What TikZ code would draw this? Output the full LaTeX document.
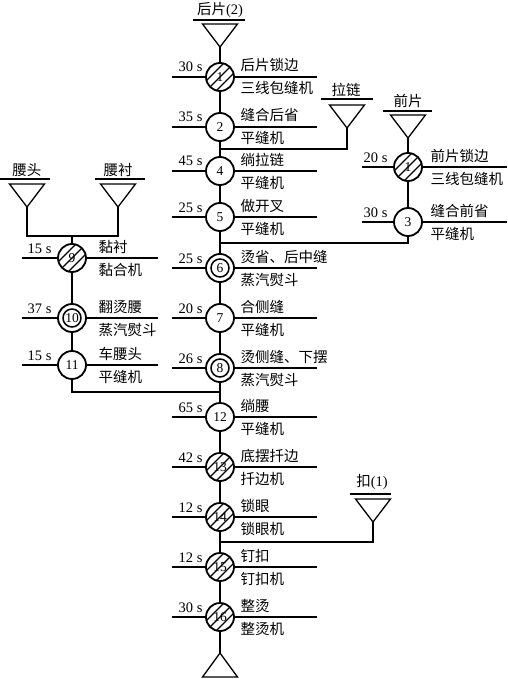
\documentclass[tikz,border=0pt]{standalone}
\usepackage{fontspec}
\setmainfont{Liberation Serif}
\newfontfamily\cjk{Noto Sans CJK SC}
\usetikzlibrary{calc}

\tikzset{
  proc/.style={circle, draw, line width=1.8pt, minimum size=28pt, inner sep=0pt,
    font=\fontsize{13.5}{13.5}\selectfont},
  hatched/.style={proc, path picture={
      \foreach \s in {-30,-20,-10}
        \draw[line width=1.2pt] ([shift={(-20pt,\s pt)}]path picture bounding box.center) -- ++(40pt,40pt);}},
  doubled/.style={proc, path picture={
      \draw[line width=1.5pt] (path picture bounding box.center) circle[radius=9pt];}},
  lbl/.style={font=\cjk\fontsize{14.5}{14.5}\selectfont, inner sep=0pt},
  tm/.style={font=\fontsize{14.5}{14.5}\selectfont, inner sep=0pt, anchor=base east},
}

\begin{document}
\begin{tikzpicture}[x=1pt, y=-1pt, line width=1.3pt]
  \useasboundingbox (0,0) rectangle (507,679);

  % main line
  \node[hatched] (n1)  at (220,77)  {1};
  \node[proc]    (n2)  at (220,127) {2};
  \node[proc]    (n4)  at (220,171) {4};
  \node[proc]    (n5)  at (220,217) {5};
  \node[doubled] (n6)  at (220,268) {6};
  \node[proc]    (n7)  at (220,318) {7};
  \node[doubled] (n8)  at (220,368) {8};
  \node[proc]    (n12) at (220,417) {12};
  \node[hatched] (n13) at (220,467) {13};
  \node[hatched] (n14) at (220,517) {14};
  \node[hatched] (n15) at (220,567) {15};
  \node[hatched] (n16) at (220,617) {16};
  % front piece
  \node[hatched] (f1)  at (408,167) {1};
  \node[proc]    (n3)  at (408,222) {3};
  % waistband
  \node[hatched] (n9)  at (72,258)  {9};
  \node[doubled] (n10) at (72,318)  {10};
  \node[proc]    (n11) at (72,365)  {11};

  \foreach \n/\t/\a/\b in {n1/30/后片锁边/三线包缝机, n2/35/缝合后省/平缝机,
      n4/45/绱拉链/平缝机, n5/25/做开叉/平缝机, n6/25/烫省、后中缝/蒸汽熨斗,
      n7/20/合侧缝/平缝机, n8/26/烫侧缝、下摆/蒸汽熨斗, n12/65/绱腰/平缝机,
      n13/42/底摆扦边/扦边机, n14/12/锁眼/锁眼机, n15/12/钉扣/钉扣机,
      n16/30/整烫/整烫机}{
    \draw (\n.west) -- ++(-33,0);
    \draw (\n.east) -- ++(82,0);
    \node[tm] (\n-t) at ($(\n.west)+(-2,-5)$) {\t~s};
    \node[lbl, anchor=base west] (\n-a) at ($(\n.east)+(5,-6)$) {\a};
    \node[lbl, anchor=base west] (\n-b) at ($(\n.east)+(5,17)$) {\b};
  }
  \foreach \n/\t/\a/\b in {f1/20/前片锁边/三线包缝机, n3/30/缝合前省/平缝机}{
    \draw (\n.west) -- ++(-31,0);
    \draw (\n.east) -- ++(84,0);
    \node[tm] (\n-t) at ($(\n.west)+(-5,-5)$) {\t~s};
    \node[lbl, anchor=base west] (\n-a) at ($(\n.east)+(7,-6)$) {\a};
    \node[lbl, anchor=base west] (\n-b) at ($(\n.east)+(7,17)$) {\b};
  }
  \foreach \n/\t/\a/\b in {n9/15/黏衬/黏合机, n10/37/翻烫腰/蒸汽熨斗, n11/15/车腰头/平缝机}{
    \draw (\n.west) -- ++(-35,0);
    \draw (\n.east) -- ++(71,0);
    \node[tm] (\n-t) at ($(\n.west)+(-5,-5)$) {\t~s};
    \node[lbl, anchor=base west] (\n-a) at ($(\n.east)+(11,-6)$) {\a};
    \node[lbl, anchor=base west] (\n-b) at ($(\n.east)+(11,17)$) {\b};
  }

  % material feeds
  \coordinate (tHP) at (220,47);
  \coordinate (tLL) at (347,128);
  \coordinate (tQP) at (408,138);
  \coordinate (tYT) at (27,207);
  \coordinate (tYC) at (118,207);
  \coordinate (tK)  at (373,522);
  \coordinate (tEnd) at (220,653);
  \foreach \c in {tHP,tLL,tQP,tYT,tYC,tK}
    \draw (\c) -- ++(-17.5,-23) -- ++(35,0) -- cycle;
  \draw (tEnd) -- ++(17.5,24) -- ++(-35,0) -- cycle;

  \node[lbl] (lHP) at (220,10)  {后片{\rmfamily(2)}};
  \node[lbl] (lLL) at (346,90)  {拉链};
  \node[lbl] (lQP) at (408,101) {前片};
  \node[lbl] (lYT) at (27,170)  {腰头};
  \node[lbl] (lYC) at (118,170) {腰衬};
  \node[lbl] (lK)  at (372,482) {扣{\rmfamily(1)}};
  \draw (193,20) -- (245,20);
  \draw (321,99) -- (373,99);
  \draw (383,111) -- (432,111);
  \draw (0,179) -- (50,179);
  \draw (95,179) -- (145,179);
  \draw (350,494) -- (391,494);

  % joins
  \coordinate (jLL) at (220,149);
  \coordinate (jQP) at (220,243);
  \coordinate (jY)  at (72,236);
  \coordinate (jW)  at (220,392);
  \coordinate (jK)  at (220,542);

  \draw (tHP) -- (n1) -- (n2) -- (n4) -- (n5) -- (n6) -- (n7) -- (n8)
    -- (n12) -- (n13) -- (n14) -- (n15) -- (n16) -- (tEnd);
  \draw (tLL) |- (jLL);
  \draw (tQP) -- (f1) -- (n3);
  \draw (n3) |- (jQP);
  \draw (tYT) |- (jY) -| (tYC);
  \draw (jY) -- (n9) -- (n10) -- (n11);
  \draw (n11) |- (jW);
  \draw (tK) |- (jK);
\end{tikzpicture}
\end{document}
